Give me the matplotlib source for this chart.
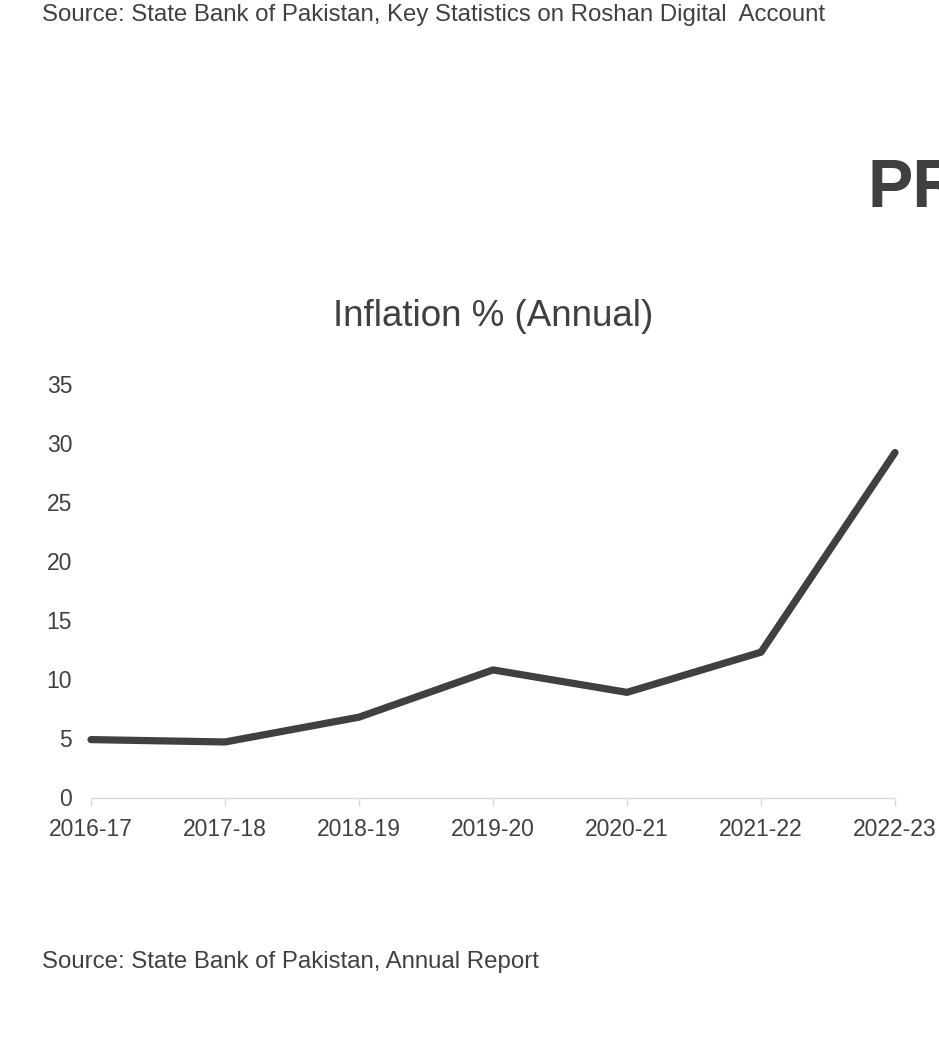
import matplotlib
matplotlib.use("Agg")
import matplotlib.pyplot as plt

years = ["2016-17", "2017-18", "2018-19", "2019-20", "2020-21", "2021-22", "2022-23"]
inflation = [4.9, 4.7, 6.8, 10.8, 8.9, 12.3, 29.2]
yticks = [0, 5, 10, 15, 20, 25, 30, 35]

plt.rcParams['font.family'] = ['Liberation Sans', 'DejaVu Sans']
TXT = '#404040'

W, H = 939, 1053
fig = plt.figure(figsize=(W/100, H/100), dpi=100)
fig.patch.set_facecolor('white')

left, right = 91/W, 895/W
bottom = (H-797.5)/H
top = (H-384)/H
ax = fig.add_axes([left, bottom, right-left, top-bottom])
x = list(range(len(years)))
ax.plot(x, inflation, color='#404040', lw=5.2, solid_capstyle='round', solid_joinstyle='round', clip_on=False)
ax.set_xlim(0, len(years)-1)
ax.set_ylim(0, 35)
ax.set_yticks(yticks)
ax.set_xticks(x)
ax.set_xticklabels(years)
for s in ['top', 'right', 'left']:
    ax.spines[s].set_visible(False)
ax.spines['bottom'].set_color('#d9d9d9')
ax.spines['bottom'].set_linewidth(1)
ax.tick_params(axis='y', length=0, pad=13.5, labelsize=16.5, labelcolor=TXT)
ax.tick_params(axis='x', length=6, color='#d9d9d9', width=1, pad=9, labelsize=16.5, labelcolor=TXT)

fig.text(493/W, 1-316/H, 'Inflation % (Annual)', ha='center', va='center', fontsize=26.5, color=TXT)
fig.text(42/W, 1-15/H, 'Source: State Bank of Pakistan, Key Statistics on Roshan Digital  Account',
         ha='left', va='center', fontsize=17.3, color=TXT)
fig.text(42/W, 1-962/H, 'Source: State Bank of Pakistan, Annual Report',
         ha='left', va='center', fontsize=17.3, color=TXT)
fig.text(868/W, 1-190/H, 'PROJECT', ha='left', va='center', fontsize=49, fontweight='bold', color=TXT)

fig.savefig('out.png', dpi=100)
